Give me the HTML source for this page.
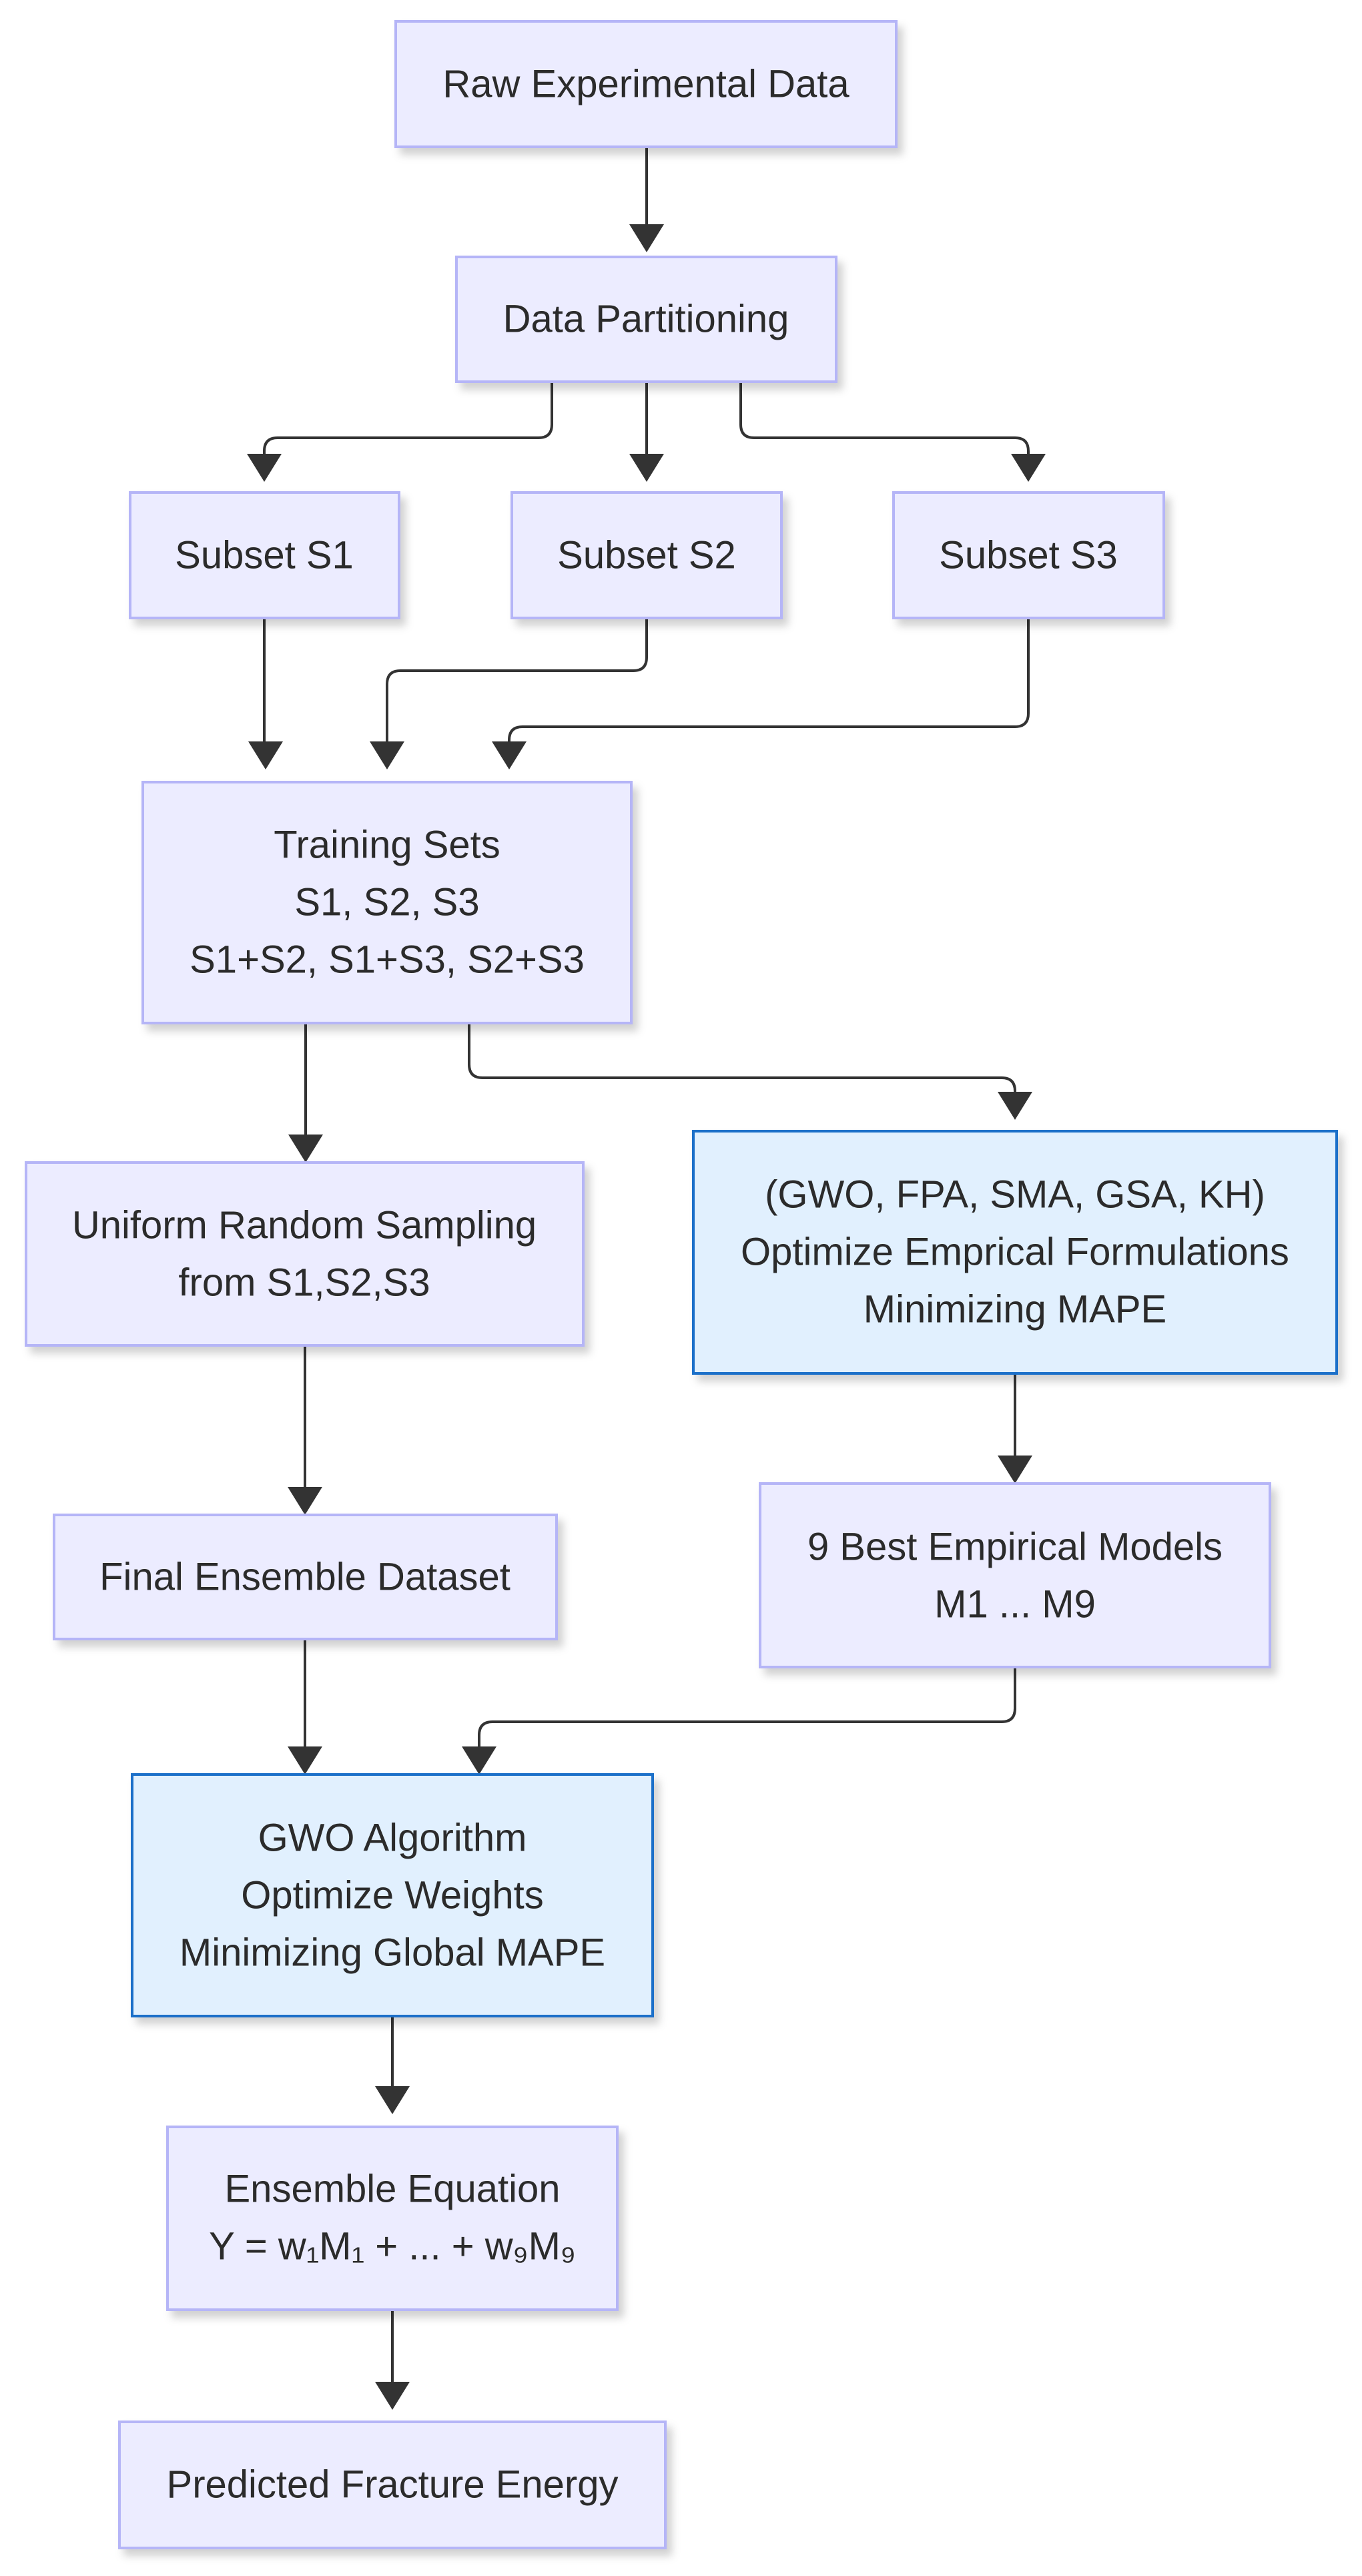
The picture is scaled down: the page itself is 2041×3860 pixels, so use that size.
<!DOCTYPE html>
<html><head><meta charset="utf-8"><style>
html,body{margin:0;padding:0;background:#fff}
svg{display:block}
text{font-family:"Liberation Sans",Arial,sans-serif;font-size:58px;fill:#2b2b2b;text-anchor:middle;dominant-baseline:central}
.n{fill:#ececff;stroke:#b5b5f7;stroke-width:4}
.b{fill:#e1f0fe;stroke:#1c6fc9;stroke-width:4}
.e{fill:none;stroke:#333;stroke-width:4}
</style></head><body>
<svg width="2041" height="3860" viewBox="0 0 2041 3860" xmlns="http://www.w3.org/2000/svg">
<defs>
<filter id="s" x="-10%" y="-10%" width="130%" height="140%"><feDropShadow dx="8" dy="10" stdDeviation="6" flood-color="#000" flood-opacity="0.18"/></filter>
</defs>
<g>
<path class="e" d="M969,222 V340"/><path d="M943,336 h52 l-26,42 z" fill="#333"/>
<path class="e" d="M827,574 V636 q0,20 -20,20 H416 q-20,0 -20,20 V684"/><path d="M370,680 h52 l-26,42 z" fill="#333"/>
<path class="e" d="M969,574 V684"/><path d="M943,680 h52 l-26,42 z" fill="#333"/>
<path class="e" d="M1110,574 V636 q0,20 20,20 H1521 q20,0 20,20 V684"/><path d="M1515,680 h52 l-26,42 z" fill="#333"/>
<path class="e" d="M396,928 V1115"/><path d="M372,1111 h52 l-26,42 z" fill="#333"/>
<path class="e" d="M969,928 V985 q0,20 -20,20 H600 q-20,0 -20,20 V1115"/><path d="M554,1111 h52 l-26,42 z" fill="#333"/>
<path class="e" d="M1541,928 V1069 q0,20 -20,20 H783 q-20,0 -20,20 V1115"/><path d="M737,1111 h52 l-26,42 z" fill="#333"/>
<path class="e" d="M458,1535 V1704"/><path d="M432,1700 h52 l-26,42 z" fill="#333"/>
<path class="e" d="M703,1535 V1595 q0,20 20,20 H1501 q20,0 20,20 V1640"/><path d="M1495,1636 h52 l-26,42 z" fill="#333"/>
<path class="e" d="M457,2018 V2232"/><path d="M431,2228 h52 l-26,42 z" fill="#333"/>
<path class="e" d="M1521,2060 V2185"/><path d="M1495,2181 h52 l-26,42 z" fill="#333"/>
<path class="e" d="M457,2458 V2621"/><path d="M431,2617 h52 l-26,42 z" fill="#333"/>
<path class="e" d="M1521,2500 V2560 q0,20 -20,20 H738 q-20,0 -20,20 V2621"/><path d="M692,2617 h52 l-26,42 z" fill="#333"/>
<path class="e" d="M588,3023 V3130"/><path d="M562,3126 h52 l-26,42 z" fill="#333"/>
<path class="e" d="M588,3463 V3573"/><path d="M562,3569 h52 l-26,42 z" fill="#333"/>
</g>
<g filter="url(#s)">
<rect class="n" x="593" y="32" width="750" height="188"/>
<rect class="n" x="684" y="385" width="569" height="187"/>
<rect class="n" x="195" y="738" width="403" height="188"/>
<rect class="n" x="767" y="738" width="404" height="188"/>
<rect class="n" x="1339" y="738" width="405" height="188"/>
<rect class="n" x="214" y="1172" width="732" height="361"/>
<rect class="n" x="39" y="1742" width="835" height="274"/>
<rect class="b" x="1039" y="1695" width="964" height="363"/>
<rect class="n" x="1139" y="2223" width="764" height="275"/>
<rect class="n" x="81" y="2270" width="753" height="186"/>
<rect class="b" x="198" y="2659" width="780" height="362"/>
<rect class="n" x="251" y="3187" width="674" height="274"/>
<rect class="n" x="179" y="3629" width="818" height="189"/>
</g>
<text x="968" y="126">Raw Experimental Data</text>
<text x="968" y="478">Data Partitioning</text>
<text x="396" y="832">Subset S1</text>
<text x="969" y="832">Subset S2</text>
<text x="1541" y="832">Subset S3</text>
<text x="580" y="1266">Training Sets</text>
<text x="580" y="1352">S1, S2, S3</text>
<text x="580" y="1438">S1+S2, S1+S3, S2+S3</text>
<text x="456" y="1836">Uniform Random Sampling</text>
<text x="456" y="1922">from S1,S2,S3</text>
<text x="1521" y="1790">(GWO, FPA, SMA, GSA, KH)</text>
<text x="1521" y="1876">Optimize Emprical Formulations</text>
<text x="1521" y="1962">Minimizing MAPE</text>
<text x="1521" y="2318">9 Best Empirical Models</text>
<text x="1521" y="2404">M1 ... M9</text>
<text x="457" y="2363">Final Ensemble Dataset</text>
<text x="588" y="2754">GWO Algorithm</text>
<text x="588" y="2840">Optimize Weights</text>
<text x="588" y="2926">Minimizing Global MAPE</text>
<text x="588" y="3280">Ensemble Equation</text>
<text x="588" y="3366">Y = w₁M₁ + ... + w₉M₉</text>
<text x="588" y="3723">Predicted Fracture Energy</text>
</svg>
</body></html>
